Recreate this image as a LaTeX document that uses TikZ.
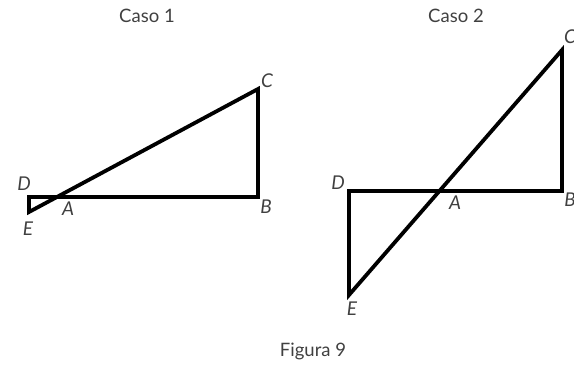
\documentclass[tikz,border=0pt]{standalone}
\usepackage{fontspec}
\setmainfont{Lato}
\usepackage{xcolor}
\usetikzlibrary{positioning}

\begin{document}
\begin{tikzpicture}[
    x=1pt, y=-1pt,
    side/.style={line width=3.8pt, line join=miter},
    vlabel/.style={font=\fontsize{19}{19}\selectfont\itshape, text=black!75, inner sep=0pt},
    caption/.style={font=\fontsize{18.5}{18.5}\selectfont, text=black!75, inner sep=0pt},
]
    \useasboundingbox (0,0) rectangle (574,368);

    % ── Caso 1 ─────────────────────────────────────
    \coordinate (D1) at (29,197);
    \coordinate (E1) at (29,212);
    \coordinate (B1) at (258,197);
    \coordinate (C1) at (258,89);
    \draw[side] (D1) -- (B1) -- (C1) -- (E1) -- cycle;

    \node[caption] (caso1) at (147,16) {Caso 1};
    \node[vlabel] (lD1) at (24,184) {D};
    \node[vlabel] (lE1) at (28,229) {E};
    \node[vlabel] (lA1) at (68,209) {A};
    \node[vlabel] (lB1) at (266,207) {B};
    \node[vlabel] (lC1) at (267,81) {C};

    % ── Caso 2 ─────────────────────────────────────
    \coordinate (D2) at (349,191);
    \coordinate (E2) at (349,295);
    \coordinate (B2) at (562,191);
    \coordinate (C2) at (562,50);
    \draw[side] (D2) -- (B2) -- (C2) -- (E2) -- cycle;

    \node[caption] (caso2) at (456,16) {Caso 2};
    \node[vlabel] (lD2) at (338,183) {D};
    \node[vlabel] (lE2) at (352,309) {E};
    \node[vlabel] (lA2) at (455,203) {A};
    \node[vlabel] (lB2) at (570,200) {B};
    \node[vlabel] (lC2) at (570,37) {C};

    % ── Figura ─────────────────────────────────────
    \node[caption] (fig) at (313,351) {Figura 9};
\end{tikzpicture}
\end{document}
